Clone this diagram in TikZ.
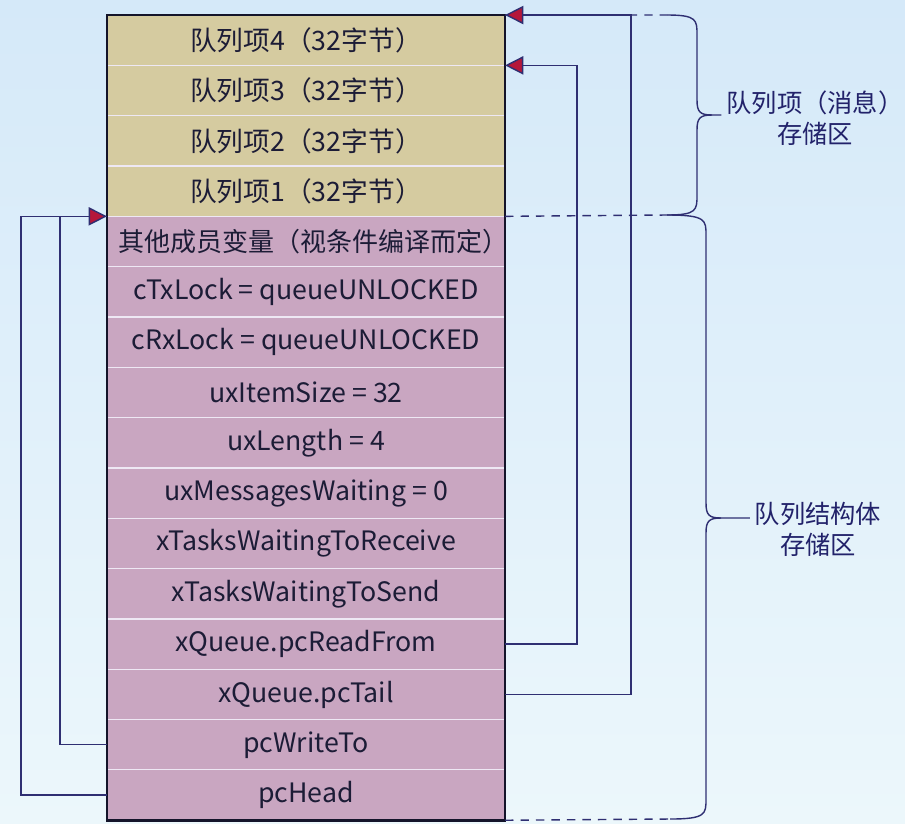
\documentclass[tikz,border=0pt]{standalone}
\usepackage{fontspec}
\setmainfont{Noto Sans CJK SC}
\usepackage{tikz}
\usetikzlibrary{arrows.meta, positioning}
\definecolor{bgtop}{HTML}{D5E9F9}
\definecolor{bgbot}{HTML}{ECF7FB}
\definecolor{itemfill}{HTML}{D5CBA0}
\definecolor{structfill}{HTML}{C9A6C1}
\definecolor{cellline}{HTML}{EEE8F4}
\definecolor{boxdark}{HTML}{14142A}
\definecolor{linknavy}{HTML}{2F2F72}
\definecolor{tipred}{HTML}{B5173A}
\definecolor{labelblue}{HTML}{22226A}
\definecolor{celltext}{HTML}{1C1C36}
\tikzset{
  % Queue memory cells
  cell/.style={
    rectangle, minimum width=9.95cm, minimum height=1.2578cm,
    inner sep=0pt, outer sep=0pt, fill=#1, draw=cellline, line width=0.8pt,
    text=celltext, font=\fontsize{19}{23}\selectfont,
  },
  cell/.default={structfill},
  % Outer frame
  frame/.style={draw=boxdark, line width=2pt},
  % Pointer lines
  link/.style={draw=linknavy, line width=1pt},
  ptr/.style={link, -{Triangle[length=13pt, width=13pt, fill=tipred]}},
  % Guide lines to braces
  guide/.style={draw=linknavy, line width=1pt, dash pattern=on 6pt off 5pt},
  % Brace labels
  arealabel/.style={align=center, text=labelblue, font=\fontsize{18}{22}\selectfont},
}
\begin{document}
\begin{tikzpicture}[x=0.025cm, y=-0.025cm]

  % Background
  \useasboundingbox (0,0) rectangle (905,823);
  \fill[top color=bgtop, bottom color=bgbot] (0,0) rectangle (905,823);

  % Queue items (messages)
  \node[cell=itemfill] (item4) at (306,40.2) {队列项4（32字节）};
  \node[cell=itemfill, below=0pt of item4] (item3) {队列项3（32字节）};
  \node[cell=itemfill, below=0pt of item3] (item2) {队列项2（32字节）};
  \node[cell=itemfill, below=0pt of item2] (item1) {队列项1（32字节）};

  % Queue structure
  \node[cell, font=\fontsize{18.5}{22}\selectfont, below=0pt of item1] (others)
    {\makebox[0pt]{\hspace*{11pt}其他成员变量（视条件编译而定）}};
  \node[cell, below=0pt of others] (txlock) {cTxLock = queueUNLOCKED};
  \node[cell, below=0pt of txlock] (rxlock) {cRxLock = queueUNLOCKED};
  \node[cell, below=0pt of rxlock] (itemsize) {uxItemSize = 32};
  \node[cell, below=0pt of itemsize] (length) {uxLength = 4};
  \node[cell, below=0pt of length] (waiting) {uxMessagesWaiting = 0};
  \node[cell, below=0pt of waiting] (waitrecv) {xTasksWaitingToReceive};
  \node[cell, below=0pt of waitrecv] (waitsend) {xTasksWaitingToSend};
  \node[cell, below=0pt of waitsend] (readfrom) {xQueue.pcReadFrom};
  \node[cell, below=0pt of readfrom] (tail) {xQueue.pcTail};
  \node[cell, below=0pt of tail] (writeto) {pcWriteTo};
  \node[cell, below=0pt of writeto] (head) {pcHead};

  % Frame
  \draw[frame] (item4.north west) rectangle (head.south east);

  % Brace end points
  \coordinate (qtop) at (667,15);
  \coordinate (qmid) at (667,215);
  \coordinate (qbot) at (670,819);

  % Guide lines
  \draw[guide] (item4.north east) -- (qtop);
  \draw[guide] (item1.south east) -- (qmid);
  \draw[guide] (head.south east) -- (qbot);

  % Pointers
  \draw[ptr] (tail.east) -- ++(126,0) |- (item4.north east);
  \draw[ptr] (readfrom.east) -- ++(72,0) |- (item3.north east);
  \draw[link] (writeto.west) -- ++(-47,0) |- (others.north west);
  \draw[ptr] (head.west) -- ++(-86,0) |- (others.north west);

  % Labels
  \node[arealabel] (msgarea) at (815,118) {队列项（消息）\\存储区};
  \node[arealabel] (structarea) at (818,529) {队列结构体\\存储区};

  % Braces
  \draw[link] (qtop) .. controls (697,15) and (697,20) .. (697,35) -- (697,100)
    .. controls (697,112) and (700,115) .. (712,115) -- (msgarea.west |- 0,115);
  \draw[link] (qmid) .. controls (697,215) and (697,210) .. (697,195) -- (697,130)
    .. controls (697,118) and (700,115) .. (712,115);
  \draw[link] (qmid) .. controls (706,215) and (706,220) .. (706,235) -- (706,503)
    .. controls (706,515) and (709,518) .. (721,518) -- (structarea.west |- 0,518);
  \draw[link] (qbot) .. controls (706,819) and (706,814) .. (706,799) -- (706,533)
    .. controls (706,521) and (709,518) .. (721,518);

\end{tikzpicture}
\end{document}
